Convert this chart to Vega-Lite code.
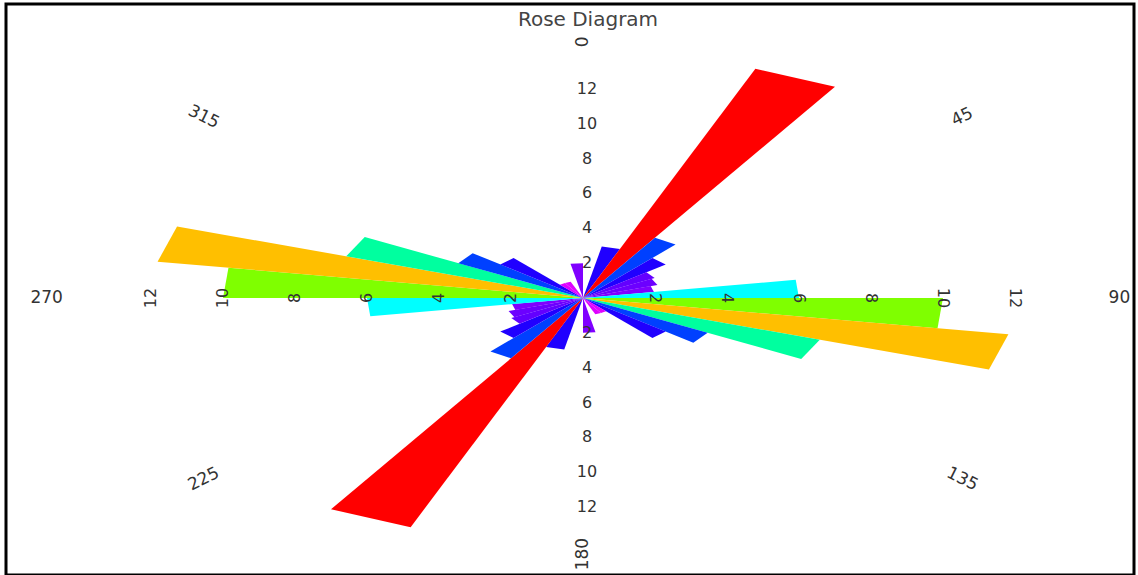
{
  "$schema": "https://vega.github.io/schema/vega-lite/v6.json",
  "width": 1128,
  "height": 571,
  "autosize": "none",
  "padding": {"left": 6, "top": 4, "right": 4, "bottom": 0},
  "background": "white",
  "config": {
    "view": {"stroke": "black", "strokeWidth": 3},
    "font": "DejaVu Sans"
  },
  "title": {
    "text": "Rose Diagram",
    "font": "DejaVu Sans",
    "fontSize": 20,
    "fontWeight": "normal",
    "color": "#444444",
    "anchor": "middle",
    "offset": -26,
    "dx": 18
  },
  "datasets": {
    "petals": [
      {"from": 10, "to": 20, "count": 3},
      {"from": 20, "to": 30, "count": 14},
      {"from": 30, "to": 40, "count": 4},
      {"from": 40, "to": 50, "count": 3},
      {"from": 50, "to": 60, "count": 2.3},
      {"from": 60, "to": 70, "count": 2.2},
      {"from": 70, "to": 80, "count": 2},
      {"from": 80, "to": 90, "count": 6},
      {"from": 90, "to": 100, "count": 10},
      {"from": 100, "to": 110, "count": 12},
      {"from": 110, "to": 120, "count": 7},
      {"from": 120, "to": 130, "count": 4},
      {"from": 130, "to": 140, "count": 3},
      {"from": 140, "to": 150, "count": 1},
      {"from": 150, "to": 160, "count": 1},
      {"from": 170, "to": 180, "count": 2},
      {"from": 190, "to": 200, "count": 3},
      {"from": 200, "to": 210, "count": 14},
      {"from": 210, "to": 220, "count": 4},
      {"from": 220, "to": 230, "count": 3},
      {"from": 230, "to": 240, "count": 2.3},
      {"from": 240, "to": 250, "count": 2.2},
      {"from": 250, "to": 260, "count": 2},
      {"from": 260, "to": 270, "count": 6},
      {"from": 270, "to": 280, "count": 10},
      {"from": 280, "to": 290, "count": 12},
      {"from": 290, "to": 300, "count": 7},
      {"from": 300, "to": 310, "count": 4},
      {"from": 310, "to": 320, "count": 3},
      {"from": 320, "to": 330, "count": 1},
      {"from": 330, "to": 340, "count": 1},
      {"from": 350, "to": 360, "count": 2}
    ],
    "rings": [
      {"value": 2}, {"value": 4}, {"value": 6},
      {"value": 8}, {"value": 10}, {"value": 12}
    ],
    "compass": [
      {"deg": 0, "label": "0"},
      {"deg": 45, "label": "45"},
      {"deg": 90, "label": "90"},
      {"deg": 135, "label": "135"},
      {"deg": 180, "label": "180"},
      {"deg": 225, "label": "225"},
      {"deg": 270, "label": "270"},
      {"deg": 315, "label": "315"}
    ]
  },
  "encoding": {
    "x": {
      "field": "east",
      "type": "quantitative",
      "scale": {"domain": [-16.028, 15.306], "nice": false, "zero": false},
      "axis": null
    },
    "y": {
      "field": "north",
      "type": "quantitative",
      "scale": {"domain": [-15.901, 16.877], "nice": false, "zero": false},
      "axis": null
    }
  },
  "layer": [
    {
      "data": {"name": "petals"},
      "transform": [
        {"calculate": "datum.from", "as": "hub"},
        {"fold": ["hub", "from", "to"], "as": ["corner", "deg"]},
        {"calculate": "datum.corner === 'hub' ? 0 : datum.count", "as": "reach"},
        {"calculate": "datum.reach * sin(datum.deg * PI / 180)", "as": "east"},
        {"calculate": "datum.reach * cos(datum.deg * PI / 180)", "as": "north"}
      ],
      "mark": {"type": "line", "interpolate": "linear-closed", "strokeWidth": 0},
      "encoding": {
        "detail": {"field": "from", "type": "nominal"},
        "order": {"field": "corner"},
        "fill": {
          "field": "count",
          "type": "quantitative",
          "scale": {
            "domain": [0, 14],
            "range": ["hsl(315,100%,50%)", "hsl(0,100%,50%)"],
            "interpolate": "hsl-long"
          },
          "legend": null
        }
      }
    },
    {
      "data": {"name": "rings"},
      "transform": [
        {"calculate": "0", "as": "east"},
        {"calculate": "datum.value", "as": "north"}
      ],
      "mark": {"type": "text", "fontSize": 16, "color": "#333333", "baseline": "middle", "align": "center", "dx": 4},
      "encoding": {"text": {"field": "value", "type": "quantitative"}}
    },
    {
      "data": {"name": "rings"},
      "transform": [
        {"calculate": "0", "as": "east"},
        {"calculate": "-datum.value", "as": "north"}
      ],
      "mark": {"type": "text", "fontSize": 16, "color": "#333333", "baseline": "middle", "align": "center", "dx": 4},
      "encoding": {"text": {"field": "value", "type": "quantitative"}}
    },
    {
      "data": {"name": "rings"},
      "transform": [
        {"calculate": "datum.value", "as": "east"},
        {"calculate": "0", "as": "north"}
      ],
      "mark": {"type": "text", "fontSize": 16, "color": "#333333", "baseline": "middle", "align": "center", "angle": 90},
      "encoding": {"text": {"field": "value", "type": "quantitative"}}
    },
    {
      "data": {"name": "rings"},
      "transform": [
        {"calculate": "-datum.value", "as": "east"},
        {"calculate": "0", "as": "north"}
      ],
      "mark": {"type": "text", "fontSize": 16, "color": "#333333", "baseline": "middle", "align": "center", "angle": 270},
      "encoding": {"text": {"field": "value", "type": "quantitative"}}
    },
    {
      "data": {"name": "compass"},
      "transform": [
        {"calculate": "14.9 * sin(datum.deg * PI / 180)", "as": "east"},
        {"calculate": "14.7 * cos(datum.deg * PI / 180)", "as": "north"},
        {"calculate": "(datum.deg % 180 - 90) * PI / 180", "as": "radial"},
        {"calculate": "atan2(sin(datum.radial), 2 * cos(datum.radial)) * 180 / PI", "as": "tilt"}
      ],
      "mark": {"type": "text", "fontSize": 17, "color": "#333333", "baseline": "middle", "align": "center"},
      "encoding": {
        "text": {"field": "label", "type": "nominal"},
        "angle": {"field": "tilt", "type": "quantitative", "scale": null}
      }
    }
  ]
}
